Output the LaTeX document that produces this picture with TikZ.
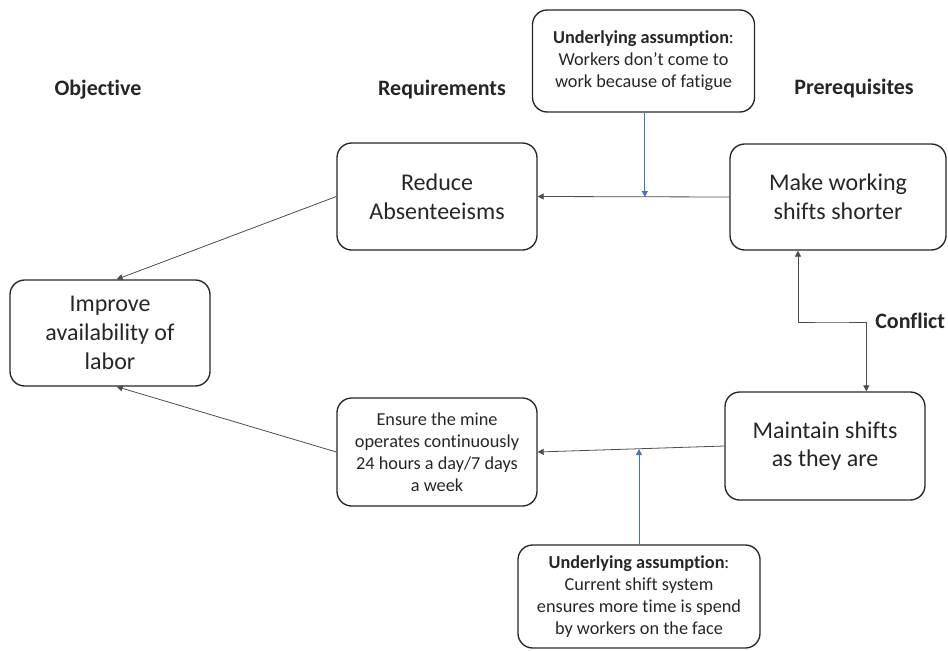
\documentclass[tikz,border=0pt]{standalone}
\usepackage{fontspec}
\setmainfont{Carlito}[Ligatures={NoCommon}]
\usetikzlibrary{arrows.meta,calc}
\definecolor{ink}{HTML}{262626}
\definecolor{linegray}{HTML}{4D4D4D}
\definecolor{assumblue}{HTML}{4472C4}
\tikzset{
  box/.style={draw=black!85, line width=1pt, rounded corners=11pt, align=center,
    text=ink, inner sep=2pt},
  bigbox/.style={box, font=\fontsize{18}{21.5}\selectfont},
  smallbox/.style={box, font=\fontsize{13.7}{16.5}\selectfont},
  heading/.style={font=\fontsize{16.5}{19}\selectfont\bfseries, text=ink, inner sep=0pt},
  tip/.style={-{Triangle[length=4.5pt,width=4.5pt]}},
  link/.style={tip, draw=linegray, line width=0.6pt},
  assumlink/.style={tip, draw=assumblue, line width=0.6pt}
}
\begin{document}
\begin{tikzpicture}[x=0.75pt,y=-0.75pt]
\useasboundingbox (0,0) rectangle (948,650);

% column headings
\node[heading] (hObj) at (98,90) {Objective};
\node[heading] (hReq) at (442,90) {Requirements};
\node[heading] (hPre) at (854,89) {Prerequisites};

% boxes
\node[smallbox, minimum width=166.5pt, minimum height=76.5pt] (asmTop) at (643.5,61)
  {\textbf{Underlying assumption}:\\Workers don’t come to\\work because of fatigue};
\node[bigbox, minimum width=150pt, minimum height=80.25pt] (reduce) at (437,196.5)
  {Reduce\\Absenteeisms};
\node[bigbox, minimum width=162pt, minimum height=79.5pt] (shorter) at (838,197)
  {Make working\\shifts shorter};
\node[bigbox, minimum width=150pt, minimum height=79.5pt] (improve) at (110,333)
  {Improve\\availability of\\labor};
\node[smallbox, minimum width=150pt, minimum height=81pt] (ensure) at (437,452)
  {Ensure the mine\\operates continuously\\24 hours a day/7 days\\a week};
\node[bigbox, minimum width=150pt, minimum height=81pt] (maintain) at (825,446)
  {Maintain shifts\\as they are};
\node[smallbox, minimum width=181.5pt, minimum height=77.25pt] (asmBot) at (639,596.5)
  {\textbf{Underlying assumption}:\\Current shift system\\ensures more time is spend\\by workers on the face};

% connectors
\draw[link] (shorter.west) -- (reduce.east);
\draw[link] (reduce.west) -- ([xshift=5pt]improve.north);
\draw[link] (ensure.west) -- ([xshift=5pt]improve.south);
\draw[link] (maintain.west) -- (ensure.east);

% assumptions acting on the links
\coordinate (hitTop) at ([xshift=1pt]asmTop.south |- shorter.west);
\coordinate (hitBot) at (asmBot.north |- 0,449);
\draw[assumlink] ([xshift=1pt]asmTop.south) -- (hitTop);
\draw[assumlink] (asmBot.north) -- (hitBot);

% conflict between the two prerequisites
\coordinate (cf) at (832,322);
\draw[draw=linegray, line width=0.6pt, {Triangle[length=4.5pt,width=4.5pt]}-{Triangle[length=4.5pt,width=4.5pt]}]
  ([xshift=-30pt]shorter.south) |- (cf) -| ([xshift=31pt]maintain.north);
\node[heading, anchor=west] (conflict) at (875,321) {Conflict};
\end{tikzpicture}
\end{document}
